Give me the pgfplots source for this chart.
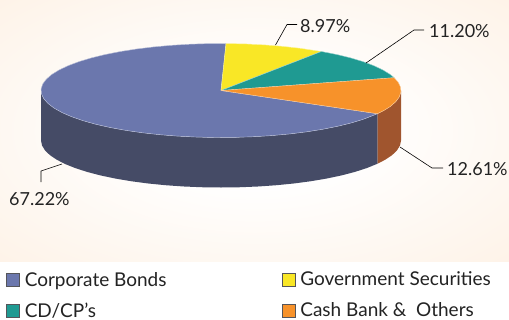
\documentclass[border=0pt]{standalone}
\usepackage{pgfplots}
\usepackage{pgfplotstable}
\usepackage{fontspec}
\setmainfont{Lato}
\pgfplotsset{compat=1.18}

\definecolor{bondtop}{RGB}{107,119,173}
\definecolor{bondwall}{RGB}{69,75,102}
\definecolor{govtop}{RGB}{249,231,38}
\definecolor{cdtop}{RGB}{31,154,146}
\definecolor{cashtop}{RGB}{247,146,42}
\definecolor{cashwall}{RGB}{160,85,46}
\definecolor{inkdark}{RGB}{35,35,35}
\definecolor{swatchedge}{RGB}{85,85,90}
\definecolor{glowedge}{RGB}{253,236,219}
\definecolor{glowcorner}{RGB}{252,231,210}

% Soft backdrop behind the pie, lightest in the middle
\pgfdeclareradialshading{backdrop}{\pgfpointorigin}{
  color(0bp)=(white);
  color(10bp)=(white);
  color(50bp)=(glowedge);
  color(71bp)=(glowcorner)}

% Projection of the disc and of its wall onto the page
\pgfplotsset{
  table/discx/.style={x expr={221+180*\thisrow{r}*cos(\thisrow{a})},
                      y expr={90.5-47*\thisrow{r}*sin(\thisrow{a})}},
  table/wallx/.style={x expr={221+180*cos(\thisrow{a})},
                      y expr={90.5-47*sin(\thisrow{a})+50*\thisrow{z}}},
}

% Disc slices: a = position on the disc in degrees, r = 0 at the hub, 1 on the rim.
% Slice shares: bonds 67.22, government 8.97, CD/CP 11.20, cash 12.61 per cent, from 88.4 degrees.
\pgfplotstableread[row sep=\\]{
a r\\ 88.4 0\\ 88.4 1\\ 94 1\\ 100 1\\ 106 1\\ 112 1\\ 118 1\\ 124 1\\ 130 1\\ 136 1\\ 142 1\\
148 1\\ 154 1\\ 160 1\\ 166 1\\ 172 1\\ 178 1\\ 184 1\\ 190 1\\ 196 1\\ 202 1\\ 208 1\\ 214 1\\
220 1\\ 226 1\\ 232 1\\ 238 1\\ 244 1\\ 250 1\\ 256 1\\ 262 1\\ 268 1\\ 274 1\\ 280 1\\ 286 1\\
292 1\\ 298 1\\ 304 1\\ 310 1\\ 316 1\\ 322 1\\ 330.4 1\\ 330.4 0\\ 88.4 0\\
}\bondslice
\pgfplotstableread[row sep=\\]{
a r\\ 88.4 0\\ 88.4 1\\ 82 1\\ 76 1\\ 70 1\\ 64 1\\ 56.1 1\\ 56.1 0\\ 88.4 0\\
}\govslice
\pgfplotstableread[row sep=\\]{
a r\\ 56.1 0\\ 56.1 1\\ 50 1\\ 44 1\\ 38 1\\ 32 1\\ 26 1\\ 20 1\\ 15.8 1\\ 15.8 0\\ 56.1 0\\
}\cdslice
\pgfplotstableread[row sep=\\]{
a r\\ 15.8 0\\ 15.8 1\\ 10 1\\ 4 1\\ -2 1\\ -8 1\\ -14 1\\ -20 1\\ -25 1\\ -29.6 1\\ -29.6 0\\ 15.8 0\\
}\cashslice

% Visible walls: z = 0 along the top rim, 1 along the bottom rim
\pgfplotstableread[row sep=\\]{
a z\\ 180 0\\ 186 0\\ 192 0\\ 198 0\\ 204 0\\ 210 0\\ 216 0\\ 222 0\\ 228 0\\ 234 0\\ 240 0\\ 246 0\\
252 0\\ 258 0\\ 264 0\\ 270 0\\ 276 0\\ 282 0\\ 288 0\\ 294 0\\ 300 0\\ 306 0\\ 312 0\\ 318 0\\ 324 0\\ 330.4 0\\
330.4 1\\ 324 1\\ 318 1\\ 312 1\\ 306 1\\ 300 1\\ 294 1\\ 288 1\\ 282 1\\ 276 1\\ 270 1\\ 264 1\\ 258 1\\
252 1\\ 246 1\\ 240 1\\ 234 1\\ 228 1\\ 222 1\\ 216 1\\ 210 1\\ 204 1\\ 198 1\\ 192 1\\ 186 1\\ 180 1\\
}\bondwallpts
\pgfplotstableread[row sep=\\]{
a z\\ 330.4 0\\ 336 0\\ 342 0\\ 348 0\\ 354 0\\ 360 0\\ 360 1\\ 354 1\\ 348 1\\ 342 1\\ 336 1\\ 330.4 1\\
}\cashwallpts

\begin{document}
\begin{tikzpicture}
\clip (0,0) rectangle (509bp,320bp);
\begin{axis}[
  at={(0,0)}, anchor=south west,
  scale only axis, width=509bp, height=320bp,
  xmin=0, xmax=509, ymin=0, ymax=320, y dir=reverse,
  hide axis, clip=false,
  legend columns=2,
  legend image code/.code={
    \draw[#1,draw=swatchedge,line width=0.8bp] (0bp,-6.5bp) rectangle (13bp,6.5bp);},
  legend style={
    at={(rel axis cs:0.0118,0.15)}, anchor=north west,
    draw=none, fill=none, inner sep=0pt, outer sep=0pt,
    font=\fontsize{19bp}{22bp}\selectfont\color{inkdark},
    legend cell align=left, row sep=15bp,
    /tikz/column 2/.style={column sep=110bp},
    nodes={inner xsep=5bp, inner ysep=0pt},
  },
]
% backdrop panel
\fill[white] (axis cs:0,0) rectangle (axis cs:509,320);
\path[shading=backdrop] (axis cs:0,0) rectangle (axis cs:509,261);

% walls
\addplot[fill=bondwall, draw=none, forget plot] table[wallx] {\bondwallpts};
\addplot[fill=cashwall, draw=none, forget plot] table[wallx] {\cashwallpts};

% top of the disc
\addplot[fill=bondtop, draw=white!55!bondtop, line width=0.4bp] table[discx] {\bondslice};
\addlegendentry{Corporate Bonds}
\addplot[fill=govtop, draw=white!55!govtop, line width=0.4bp] table[discx] {\govslice};
\addlegendentry{Government Securities}
\addplot[fill=cdtop, draw=white!55!cdtop, line width=0.4bp] table[discx] {\cdslice};
\addlegendentry{CD/CP's}
\addplot[fill=cashtop, draw=white!55!cashtop, line width=0.4bp] table[discx] {\cashslice};
\addlegendentry{Cash Bank \&\ \ Others}

% leader lines
\addplot[black, line width=0.6bp, forget plot] coordinates {(275.5,45) (287,24.5) (297,24.5)};
\addplot[black, line width=0.6bp, forget plot] coordinates {(366,63) (414,30) (424,30)};
\addplot[black, line width=0.6bp, forget plot] coordinates {(400,147) (432,168) (443,168)};
\addplot[black, line width=0.6bp, forget plot] coordinates {(62,164) (41,171) (41,182)};

% share labels
\begin{scope}[every node/.style={font=\fontsize{18bp}{20bp}\selectfont, text=inkdark, inner sep=0pt}]
\node[anchor=west] at (axis cs:300,26) {8.97\%};
\node[anchor=west] at (axis cs:429,31) {11.20\%};
\node[anchor=west] at (axis cs:447,169) {12.61\%};
\node[anchor=west] at (axis cs:9,199) {67.22\%};
\end{scope}
\end{axis}
\end{tikzpicture}
\end{document}
